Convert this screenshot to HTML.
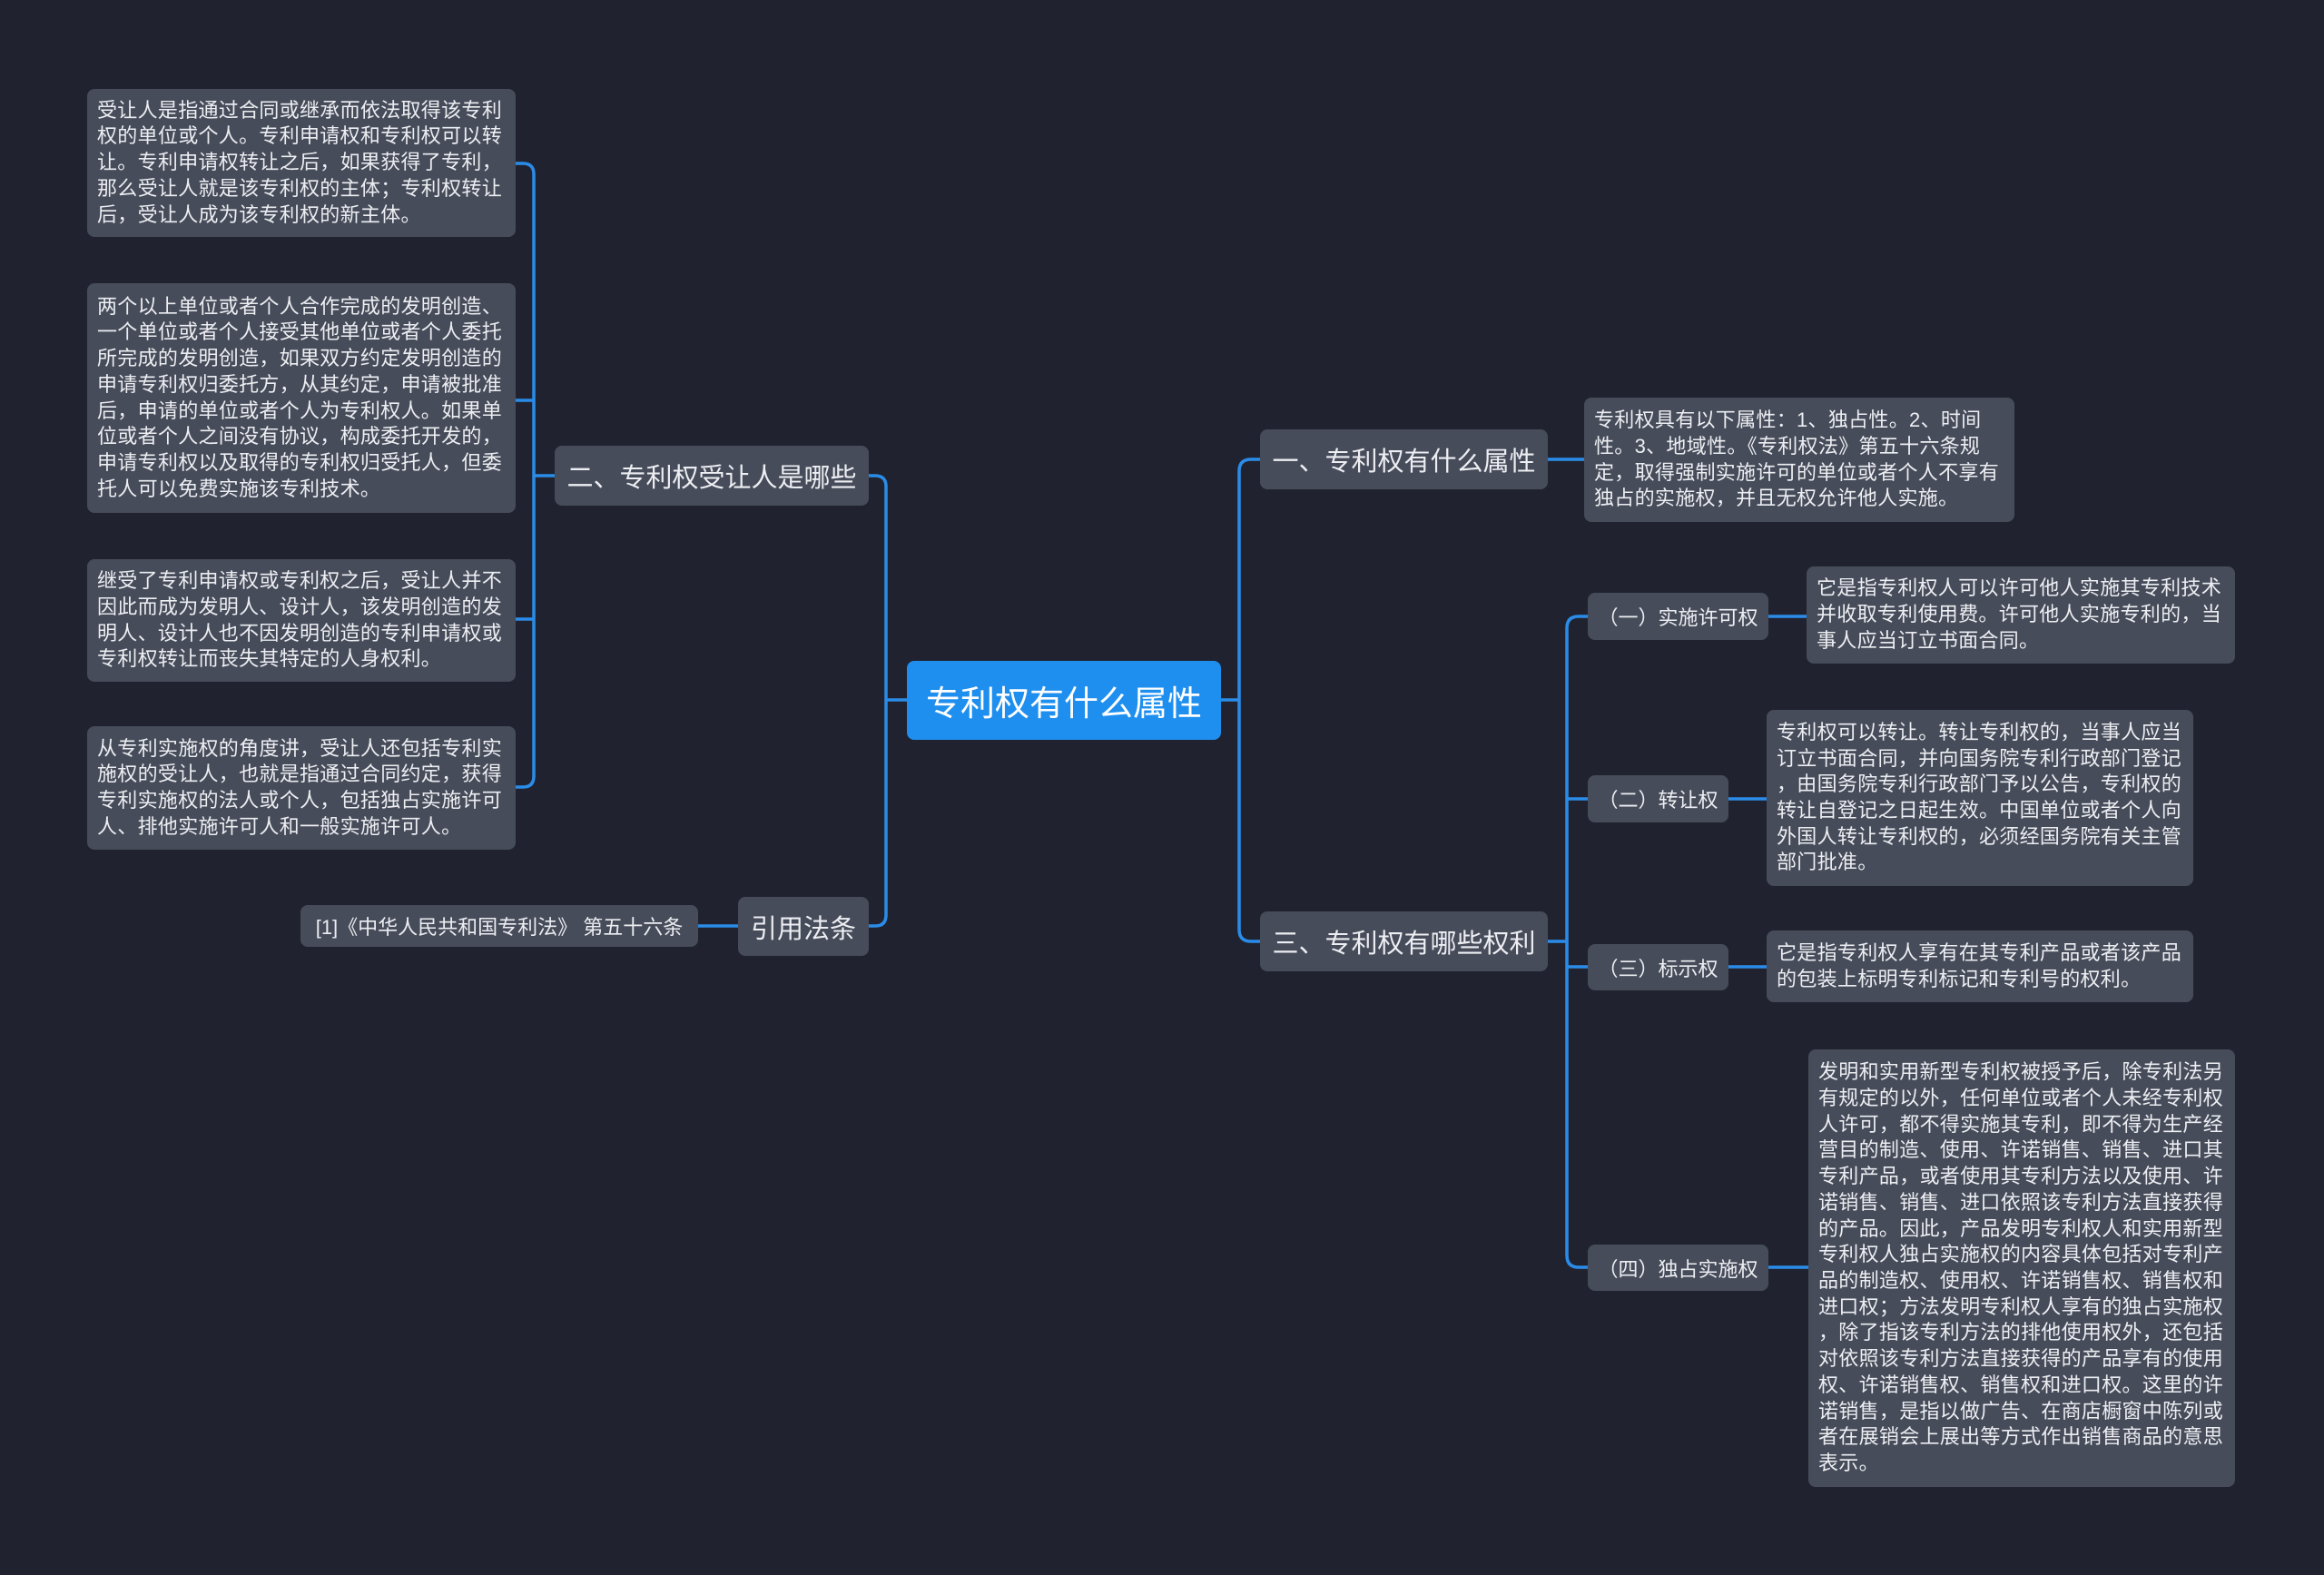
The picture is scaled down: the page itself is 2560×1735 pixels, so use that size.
<!DOCTYPE html>
<html><head><meta charset="utf-8"><style>
html,body{margin:0;padding:0}
body{width:2560px;height:1735px;background:#20232f;position:relative;overflow:hidden;font-family:"Liberation Sans","Noto Sans CJK SC",sans-serif;color:#eceef2}
.n{position:absolute;background:#474c5a;border-radius:8px;display:flex;align-items:center;box-sizing:border-box}
.leaf{font-size:22px;line-height:28.7px;padding:0 10px 0 11px;letter-spacing:0.3px;white-space:nowrap}
.main{font-size:29px;justify-content:center;white-space:nowrap}
.sub{font-size:22px;justify-content:center;white-space:nowrap}
svg{position:absolute;left:0;top:0}
</style></head><body>
<svg width="2560" height="1735" fill="none" stroke="#2a8ce8" stroke-width="3.5">
<!-- root right -->
<path d="M1345 771 H1365"/>
<path d="M1388 506 H1378 Q1365 506 1365 519 V1024 Q1365 1037 1378 1037 H1388"/>
<!-- root left -->
<path d="M999 771 H976"/>
<path d="M957 524 H964 Q976 524 976 536 V1008 Q976 1020 964 1020 H957"/>
<!-- 二 -->
<path d="M611 524 H588"/>
<path d="M568 180 H576 Q588 180 588 192 V855 Q588 867 576 867 H568"/>
<path d="M568 441 H588 M568 682 H588"/>
<!-- 引用 -->
<path d="M813 1020 H769"/>
<!-- 一 -->
<path d="M1705 506 H1745"/>
<!-- 三 -->
<path d="M1705 1037 H1726"/>
<path d="M1749 679 H1739 Q1726 679 1726 692 V1383 Q1726 1396 1739 1396 H1749"/>
<path d="M1726 880 H1749 M1726 1065 H1749"/>
<path d="M1948 679 H1990 M1904 880 H1946 M1904 1065 H1946 M1948 1396 H1992"/>
</svg>

<div class="n main" style="left:999px;top:728px;width:346px;height:87px;background:#1f8fef;font-size:38px;color:#fff">专利权有什么属性</div>

<div class="n main" style="left:1388px;top:473px;width:317px;height:66px">一、专利权有什么属性</div>
<div class="n main" style="left:1388px;top:1004px;width:317px;height:66px">三、专利权有哪些权利</div>
<div class="n main" style="left:611px;top:491px;width:346px;height:66px">二、专利权受让人是哪些</div>
<div class="n main" style="left:813px;top:988px;width:144px;height:65px">引用法条</div>
<div class="n sub" style="left:331px;top:997px;width:438px;height:46px">[1]《中华人民共和国专利法》 第五十六条</div>

<div class="n leaf" style="left:96px;top:98px;width:472px;height:163px">受让人是指通过合同或继承而依法取得该专利<br>权的单位或个人。专利申请权和专利权可以转<br>让。专利申请权转让之后，如果获得了专利，<br>那么受让人就是该专利权的主体；专利权转让<br>后，受让人成为该专利权的新主体。</div>
<div class="n leaf" style="left:96px;top:312px;width:472px;height:253px">两个以上单位或者个人合作完成的发明创造、<br>一个单位或者个人接受其他单位或者个人委托<br>所完成的发明创造，如果双方约定发明创造的<br>申请专利权归委托方，从其约定，申请被批准<br>后，申请的单位或者个人为专利权人。如果单<br>位或者个人之间没有协议，构成委托开发的，<br>申请专利权以及取得的专利权归受托人，但委<br>托人可以免费实施该专利技术。</div>
<div class="n leaf" style="left:96px;top:616px;width:472px;height:135px">继受了专利申请权或专利权之后，受让人并不<br>因此而成为发明人、设计人，该发明创造的发<br>明人、设计人也不因发明创造的专利申请权或<br>专利权转让而丧失其特定的人身权利。</div>
<div class="n leaf" style="left:96px;top:800px;width:472px;height:136px">从专利实施权的角度讲，受让人还包括专利实<br>施权的受让人，也就是指通过合同约定，获得<br>专利实施权的法人或个人，包括独占实施许可<br>人、排他实施许可人和一般实施许可人。</div>

<div class="n leaf" style="left:1745px;top:438px;width:474px;height:137px">专利权具有以下属性：1、独占性。2、时间<br>性。3、地域性。《专利权法》第五十六条规<br>定，取得强制实施许可的单位或者个人不享有<br>独占的实施权，并且无权允许他人实施。</div>

<div class="n sub" style="left:1749px;top:653px;width:199px;height:52px">（一）实施许可权</div>
<div class="n sub" style="left:1749px;top:854px;width:155px;height:52px">（二）转让权</div>
<div class="n sub" style="left:1749px;top:1040px;width:155px;height:51px">（三）标示权</div>
<div class="n sub" style="left:1749px;top:1371px;width:199px;height:51px">（四）独占实施权</div>

<div class="n leaf" style="left:1990px;top:624px;width:472px;height:107px">它是指专利权人可以许可他人实施其专利技术<br>并收取专利使用费。许可他人实施专利的，当<br>事人应当订立书面合同。</div>
<div class="n leaf" style="left:1946px;top:782px;width:470px;height:194px">专利权可以转让。转让专利权的，当事人应当<br>订立书面合同，并向国务院专利行政部门登记<br>，由国务院专利行政部门予以公告，专利权的<br>转让自登记之日起生效。中国单位或者个人向<br>外国人转让专利权的，必须经国务院有关主管<br>部门批准。</div>
<div class="n leaf" style="left:1946px;top:1025px;width:470px;height:79px">它是指专利权人享有在其专利产品或者该产品<br>的包装上标明专利标记和专利号的权利。</div>
<div class="n leaf" style="left:1992px;top:1156px;width:470px;height:482px">发明和实用新型专利权被授予后，除专利法另<br>有规定的以外，任何单位或者个人未经专利权<br>人许可，都不得实施其专利，即不得为生产经<br>营目的制造、使用、许诺销售、销售、进口其<br>专利产品，或者使用其专利方法以及使用、许<br>诺销售、销售、进口依照该专利方法直接获得<br>的产品。因此，产品发明专利权人和实用新型<br>专利权人独占实施权的内容具体包括对专利产<br>品的制造权、使用权、许诺销售权、销售权和<br>进口权；方法发明专利权人享有的独占实施权<br>，除了指该专利方法的排他使用权外，还包括<br>对依照该专利方法直接获得的产品享有的使用<br>权、许诺销售权、销售权和进口权。这里的许<br>诺销售，是指以做广告、在商店橱窗中陈列或<br>者在展销会上展出等方式作出销售商品的意思<br>表示。</div>
</body></html>
